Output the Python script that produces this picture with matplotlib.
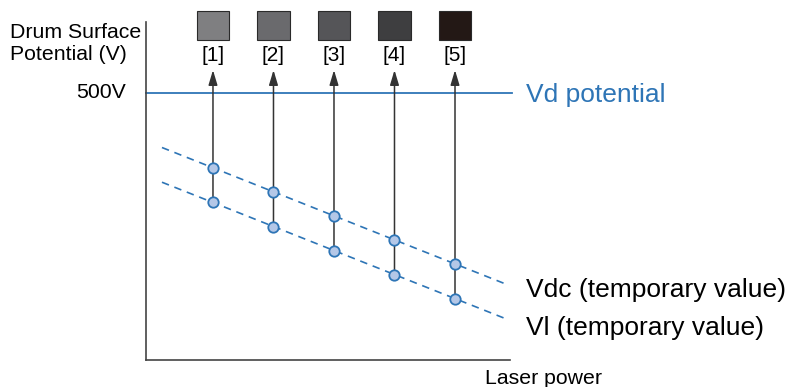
import numpy as np
import matplotlib.pyplot as plt
from matplotlib.patches import Rectangle

plt.rcParams['font.family'] = ['Liberation Sans', 'DejaVu Sans']

# laser power steps and drum potentials
steps = [1, 2, 3, 4, 5]
step_labels = ['[1]', '[2]', '[3]', '[4]', '[5]']
patch_colors = ['#7f7f81', '#6a6a6d', '#555558', '#3e3e40', '#231815']
vd = 500
vdc = [360, 315, 270, 225, 180]
vl = [295, 250, 205, 160, 115]

blue = '#2e75b6'

fig = plt.figure(figsize=(7.9, 3.87), dpi=100)
ax = fig.add_axes([146 / 790, 27 / 387, 364 / 790, 338 / 387])
ax.set_xlim(-0.107, 5.909)
ax.set_ylim(0, 633)
for s in ['top', 'right']:
    ax.spines[s].set_visible(False)
for s in ['left', 'bottom']:
    ax.spines[s].set_color('#444444')
    ax.spines[s].set_linewidth(1.2)
ax.set_xticks([])
ax.set_yticks([])

# Vd line
ax.plot([-0.107, 5.94], [vd, vd], color=blue, lw=1.3, clip_on=False, zorder=2)

# dashed trend lines through the temporary values
xx = np.array([0.157, 5.826])
for vals in (vdc, vl):
    k, b = np.polyfit(steps, vals, 1)
    ax.plot(xx, k * xx + b, color=blue, lw=1.2, ls=(0, (4.5, 3.5)), zorder=2)

# arrows, markers, gray patches, labels
for x, top, bot, lab, c in zip(steps, vdc, vl, step_labels, patch_colors):
    ax.annotate('', xy=(x, 543), xytext=(x, bot),
                arrowprops=dict(arrowstyle='-|>,head_length=0.9,head_width=0.27',
                                color='#333333', lw=1.1,
                                mutation_scale=10, shrinkA=0, shrinkB=0), zorder=3)
    ax.add_patch(Rectangle((x - 0.27, 600), 0.54, 53, facecolor=c,
                           edgecolor='#2a2a2a', lw=0.8, clip_on=False))
    ax.text(x, 571, lab, ha='center', va='center', fontsize=15)
ax.plot(steps, vdc, 'o', ms=7.5, mfc='#b4c7e7', mec=blue, mew=1.3, zorder=4)
ax.plot(steps, vl, 'o', ms=7.5, mfc='#b4c7e7', mec=blue, mew=1.3, zorder=4)

# texts
fig.text(10 / 790, 1 - 32 / 387, 'Drum Surface', fontsize=15.3, va='center', ha='left')
fig.text(10 / 790, 1 - 55 / 387, 'Potential (V)', fontsize=15.3, va='center', ha='left')
fig.text(126 / 790, 1 - 93 / 387, '500V', fontsize=15.3, va='center', ha='right')
fig.text(526 / 790, 1 - 95 / 387, 'Vd potential', fontsize=19, va='center', ha='left', color=blue)
fig.text(526 / 790, 1 - 290 / 387, 'Vdc (temporary value)', fontsize=19, va='center', ha='left')
fig.text(526 / 790, 1 - 328 / 387, 'Vl (temporary value)', fontsize=19, va='center', ha='left')
fig.text(485 / 790, 1 - 378 / 387, 'Laser power', fontsize=15.3, va='center', ha='left')

fig.savefig('out.png', dpi=100)
